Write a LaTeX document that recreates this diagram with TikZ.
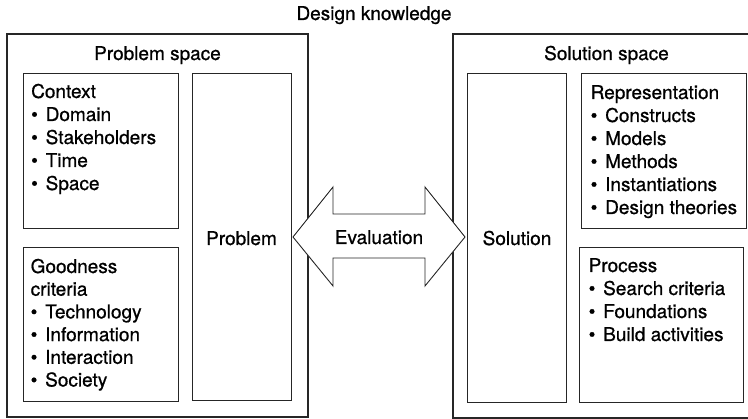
\documentclass[tikz,border=0pt]{standalone}
\usepackage{fontspec}
\setmainfont{TeX Gyre Heros}[FakeBold=0.8]
\newcommand\fs{\fontsize{19}{23}\selectfont}
\newcommand\itm[1]{\hbox{\makebox[14.5pt][l]{•}#1}}
\newcommand\hd[1]{\hbox{#1}}
\tikzset{
  box/.style={draw=black!85, line width=0.9pt, inner sep=0pt, outer sep=0pt, anchor=north west},
  outerbox/.style={box, line width=1.1pt},
  lbl/.style={inner sep=0pt, anchor=base, font=\fs},
  lst/.style={inner sep=0pt, anchor=base west, font=\fs},
  evarrow/.style={draw=black!85, line width=0.9pt, fill=white, line join=miter},
}
\begin{document}
\begin{tikzpicture}[x=1pt,y=-1pt]
\useasboundingbox (0,0) rectangle (748,419);
% outer boxes
\node[outerbox, minimum width=301pt, minimum height=383pt] (ps) at (7,34) {};
\node[outerbox, minimum width=310pt, minimum height=384pt] (ss) at (453,34) {};
% inner boxes
\node[box, minimum width=155pt, minimum height=155pt] (ctx) at (23,73) {};
\node[box, minimum width=155pt, minimum height=154pt] (good) at (23,247) {};
\node[box, minimum width=99pt, minimum height=327pt] (prob) at (192,73) {};
\node[box, minimum width=99pt, minimum height=329pt] (sol) at (467,73) {};
\node[box, minimum width=165pt, minimum height=155pt] (rep) at (581,73) {};
\node[box, minimum width=164pt, minimum height=155pt] (proc) at (579,247) {};
% titles
\node[lbl] (dk) at (374,20) {Design knowledge};
\node[lbl] (pst) at (157.5,60) {Problem space};
\node[lbl] (sst) at (606.5,60) {Solution space};
\node[lbl] (probt) at (241.5,245) {Problem};
\node[lbl] (solt) at (517,245) {Solution};
% lists
\node[lst] (ctxt) at (31,98) {\vtop{\baselineskip=23pt\hd{Context}\itm{Domain}\itm{Stakeholders}\itm{Time}\itm{Space}}};
\node[lst] (goodt) at (30.5,273) {\vtop{\baselineskip=22.7pt\hd{Goodness}\hd{criteria}\itm{Technology}\itm{Information}\itm{Interaction}\itm{Society}}};
\node[lst] (rept) at (590.5,99) {\vtop{\baselineskip=23pt\hd{Representation}\itm{Constructs}\itm{Models}\itm{Methods}\itm{Instantiations}\itm{Design theories}}};
\node[lst] (proct) at (588.5,272) {\vtop{\baselineskip=23pt\hd{Process}\itm{Search criteria}\itm{Foundations}\itm{Build activities}}};
% evaluation double arrow
\draw[evarrow] (293,237) -- (333,187) -- (333,214) -- (425,214) -- (425,187) -- (465,237)
  -- (425,286) -- (425,258) -- (333,258) -- (333,286) -- cycle;
\node[lbl] (eval) at (379,244) {Evaluation};
\end{tikzpicture}
\end{document}
